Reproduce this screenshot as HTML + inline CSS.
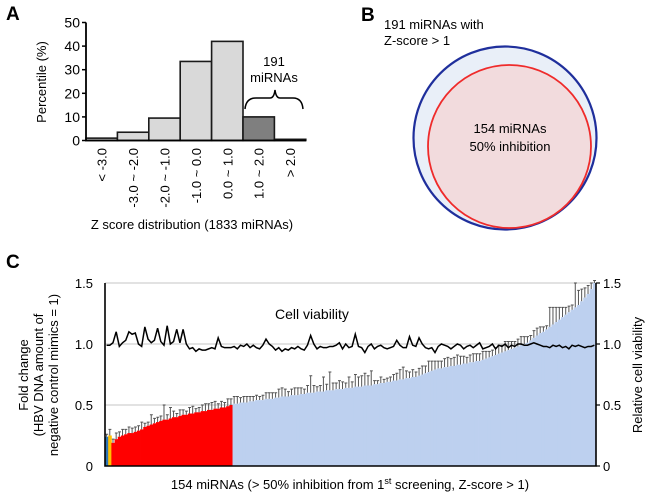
<!DOCTYPE html>
<html><head><meta charset="utf-8"><style>
body{margin:0;background:#fff;font-family:"Liberation Sans",Arial,sans-serif}
svg text{font-family:"Liberation Sans",Arial,sans-serif;fill:#000}
</style></head><body>
<svg id="s" width="650" height="495" viewBox="0 0 650 495">
<text x="6" y="20" font-size="19" font-weight="bold">A</text>
<text x="361" y="21" font-size="19" font-weight="bold">B</text>
<text x="6" y="268" font-size="19" font-weight="bold">C</text>
<g id="ga"></g>
<g>
<circle cx="505" cy="138" r="91.5" fill="#e9eff8" stroke="#1f2f9c" stroke-width="2.2"/>
<circle cx="509.5" cy="146.5" r="81.5" fill="#f2dbdd" stroke="#ef2b2b" stroke-width="1.8"/>
<text x="384" y="29" font-size="13">191 miRNAs with</text>
<text x="384" y="45" font-size="13">Z-score &gt; 1</text>
<text x="510" y="133" font-size="13" text-anchor="middle">154 miRNAs</text>
<text x="510" y="151" font-size="13" text-anchor="middle">50% inhibition</text>
</g>
<g id="gc"></g>
</svg>
<script>
const aCats=["< -3.0","-3.0 ~ -2.0","-2.0 ~ -1.0","-1.0 ~ 0.0","0.0 ~ 1.0","1.0 ~ 2.0","> 2.0"];
const aVals=[1,3.5,9.5,33.5,42,10,0.5];
const aTicks=[0,10,20,30,40,50];
const foldVals=[0.24,0.25,
0.19,0.22,0.24,0.25,0.26,0.27,0.27,0.28,0.29,0.30,0.32,0.33,0.34,0.35,0.36,0.37,0.38,0.38,0.39,0.40,0.40,0.41,0.42,0.42,0.43,0.43,0.44,0.44,0.45,0.45,0.46,0.46,0.47,0.47,0.48,0.48,0.49,0.50,
0.51,0.51,0.52,0.52,0.52,0.53,0.53,0.54,0.54,0.54,0.55,0.55,0.55,0.56,0.56,0.57,0.57,0.57,0.58,0.58,0.58,0.59,0.59,0.60,0.60,0.60,0.61,0.61,0.61,0.62,0.62,0.62,0.63,0.63,0.63,0.64,0.64,0.64,0.65,0.65,0.65,0.66,0.66,0.66,
0.67,0.67,0.68,0.68,0.69,0.69,0.70,0.70,0.71,0.71,0.72,0.72,0.73,0.73,0.74,0.75,0.76,0.77,0.78,0.79,0.80,0.80,0.81,0.81,0.82,0.82,0.83,0.83,0.84,0.84,0.85,0.85,0.86,0.86,0.87,0.88,
0.89,0.90,0.91,0.92,0.93,0.94,0.95,0.96,0.97,0.98,0.99,1.00,1.01,1.03,1.05,1.07,1.09,1.10,1.12,1.14,1.16,1.18,1.20,1.22,1.24,1.26,1.28,1.30,1.32,1.35,1.38,1.41,1.45,1.50];
const foldErr=[0.02,0.05,0.03,0.05,0.04,0.05,0.04,0.05,0.04,0.04,0.04,0.06,0.03,0.03,0.08,0.04,0.04,0.04,0.12,0.04,0.09,0.05,0.03,0.05,0.04,0.03,0.05,0.06,0.03,0.04,0.05,0.06,0.05,0.06,0.06,0.04,0.05,0.04,0.06,0.05,
0.06,0.06,0.04,0.05,0.05,0.04,0.04,0.04,0.03,0.04,0.05,0.05,0.05,0.04,0.07,0.07,0.06,0.04,0.05,0.06,0.06,0.05,0.04,0.06,0.14,0.06,0.04,0.05,0.12,0.05,0.15,0.06,0.05,0.07,0.06,0.04,0.09,0.05,0.10,0.08,0.09,0.10,0.08,0.12,
0.03,0.03,0.05,0.03,0.03,0.04,0.05,0.06,0.08,0.10,0.06,0.05,0.06,0.04,0.06,0.07,0.06,0.09,0.08,0.07,0.06,0.06,0.07,0.08,0.06,0.07,0.08,0.07,0.06,0.05,0.06,0.07,0.06,0.06,0.07,0.06,
0.05,0.05,0.06,0.07,0.06,0.08,0.07,0.06,0.05,0.06,0.07,0.06,0.05,0.04,0.06,0.06,0.05,0.04,0.03,0.16,0.14,0.12,0.10,0.08,0.06,0.05,0.04,0.20,0.12,0.10,0.08,0.07,0.05,0.02];
const viab=[0.99,0.99,1.01,1.10,0.98,1.01,1.03,1.10,1.08,1.09,1.00,0.98,1.14,1.04,1.01,1.03,1.13,1.02,0.99,1.15,1.00,1.02,1.12,1.01,1.12,1.00,0.96,0.97,0.94,0.96,0.95,0.95,0.96,0.97,0.96,1.05,0.98,0.97,0.97,0.97,
0.98,0.96,0.99,0.98,1.00,0.97,0.99,0.97,0.96,0.99,1.04,1.00,0.98,0.95,0.97,0.94,0.96,0.95,0.97,0.96,0.98,0.96,0.95,0.99,1.07,1.00,0.96,0.98,0.97,0.97,0.98,0.98,0.99,1.01,0.96,1.00,0.97,0.98,1.08,0.98,0.97,0.93,0.98,1.00,
0.96,0.98,0.99,0.97,0.96,0.97,0.98,1.03,0.99,0.97,0.97,1.06,0.99,0.98,1.05,1.00,0.97,0.96,0.97,0.93,0.98,1.00,0.99,0.98,0.96,0.98,1.00,0.99,0.96,0.98,0.99,0.97,0.99,1.01,0.96,0.97,
0.98,1.00,0.96,0.99,0.98,1.00,0.97,0.99,0.98,1.00,1.00,0.99,0.99,1.00,1.01,1.00,0.99,0.98,0.98,0.97,0.99,0.98,0.99,0.97,0.98,0.96,0.99,0.98,0.99,0.98,0.97,0.98,0.98,0.99];
const cTicks=[0,0.5,1.0,1.5];
const NS="http://www.w3.org/2000/svg";
function mk(p,t,a,txt){const e=document.createElementNS(NS,t);for(const k in a)e.setAttribute(k,a[k]);if(txt!=null)e.textContent=txt;p.appendChild(e);return e;}
// Panel A
const ga=document.getElementById('ga');
const aX0=86,aBW=31.4,aY0=140.5,aY=v=>aY0-v*2.36;
aTicks.forEach(t=>{const l=mk(ga,'text',{x:80,y:aY(t)+5,'font-size':14,'text-anchor':'end'},t);


const tk=mk(ga,'line',{x1:82,x2:86,y1:aY(t),y2:aY(t),stroke:'#000','stroke-width':1.5});

});
aVals.forEach((v,i)=>{const r=mk(ga,'rect',{x:aX0+i*aBW,y:aY(v),width:aBW,height:aY0-aY(v),fill:i==5?'#7f7f7f':'#d9d9d9',stroke:'#1a1a1a','stroke-width':1.6});


const l=mk(ga,'text',{transform:`translate(${aX0+i*aBW+aBW/2+5},148) rotate(-90)`,'font-size':13,'text-anchor':'end'},aCats[i]);

});
const axa=mk(ga,'path',{d:`M86 ${aY(50)} V${aY0} H306`,fill:'none',stroke:'#000','stroke-width':1.8});


const br=mk(ga,'path',{d:'M245 109 Q246 98 256 98 H270 Q274 98 275 90 Q276 98 280 98 H293 Q302 98 303 109',fill:'none',stroke:'#000','stroke-width':1.5});


const b1=mk(ga,'text',{x:274,y:66,'font-size':13,'text-anchor':'middle'},'191');


const b2=mk(ga,'text',{x:274,y:82,'font-size':13,'text-anchor':'middle'},'miRNAs');


const ayt=mk(ga,'text',{transform:'translate(46,82) rotate(-90)','font-size':13,'text-anchor':'middle'},'Percentile (%)');


const axt=mk(ga,'text',{x:192,y:229,'font-size':13,'text-anchor':'middle'},'Z score distribution (1833 miRNAs)');


// Panel C
const gc=document.getElementById('gc');
const cL=105,cR=596,cY0=466,cY=v=>cY0-v*122,n=foldVals.length,bw=(cR-cL)/n,cx=i=>cL+i*bw;
cTicks.forEach(t=>{if(t>0){const g=mk(gc,'line',{x1:cL,x2:cR,y1:cY(t),y2:cY(t),stroke:'#d9d9d9','stroke-width':1.5});

}
const lab=t==0?'0':t.toFixed(1);
const l=mk(gc,'text',{x:93,y:cY(t)+5,'font-size':13,'text-anchor':'end'},lab);


const r=mk(gc,'text',{x:603,y:cY(t)+5,'font-size':13},lab);


const tk=mk(gc,'line',{x1:cR,x2:cR+4,y1:cY(t),y2:cY(t),stroke:'#000','stroke-width':1.2});

});
foldVals.forEach((v,i)=>{const x=cx(i)+bw/2,top=cY(v+foldErr[i]);
const e=mk(gc,'path',{d:`M${x} ${cY(v)} V${top} M${x-1.3} ${top} H${x+1.6}`,stroke:'#555','stroke-width':1});

});
foldVals.forEach((v,i)=>{const col=i==0?'#2e75b6':i==1?'#ffc000':i<40?'#ff0000':'#bdd0ef';
const r=mk(gc,'rect',{x:cx(i),y:cY(v),width:bw+0.4,height:cY0-cY(v),fill:col});

});
const vp=mk(gc,'polyline',{points:viab.map((v,i)=>`${cx(i)+bw/2},${cY(v)}`).join(' '),fill:'none',stroke:'#000','stroke-width':1.5});


const axc=mk(gc,'path',{d:`M${cL} ${cY(1.5)} V${cY0} H${cR} V${cY(1.5)}`,fill:'none',stroke:'#000','stroke-width':1.6});


const vl=mk(gc,'text',{x:275,y:319,'font-size':14},'Cell viability');


["Fold change","(HBV DNA amount of","negative control mimics = 1)"].forEach((s,k)=>{const t=mk(gc,'text',{transform:`translate(${28+k*15},375) rotate(-90)`,'font-size':13,'text-anchor':'middle'},s);

});
const ry=mk(gc,'text',{transform:'translate(642,375) rotate(-90)','font-size':13,'text-anchor':'middle'},'Relative cell viability');


const xt=mk(gc,'text',{x:350,y:489,'font-size':13,'text-anchor':'middle'});


xt.innerHTML='154 miRNAs (&gt; 50% inhibition from 1<tspan font-size="9" dy="-5">st</tspan><tspan dy="5"> screening, Z-score &gt; 1)</tspan>';
</script>
</body></html>
